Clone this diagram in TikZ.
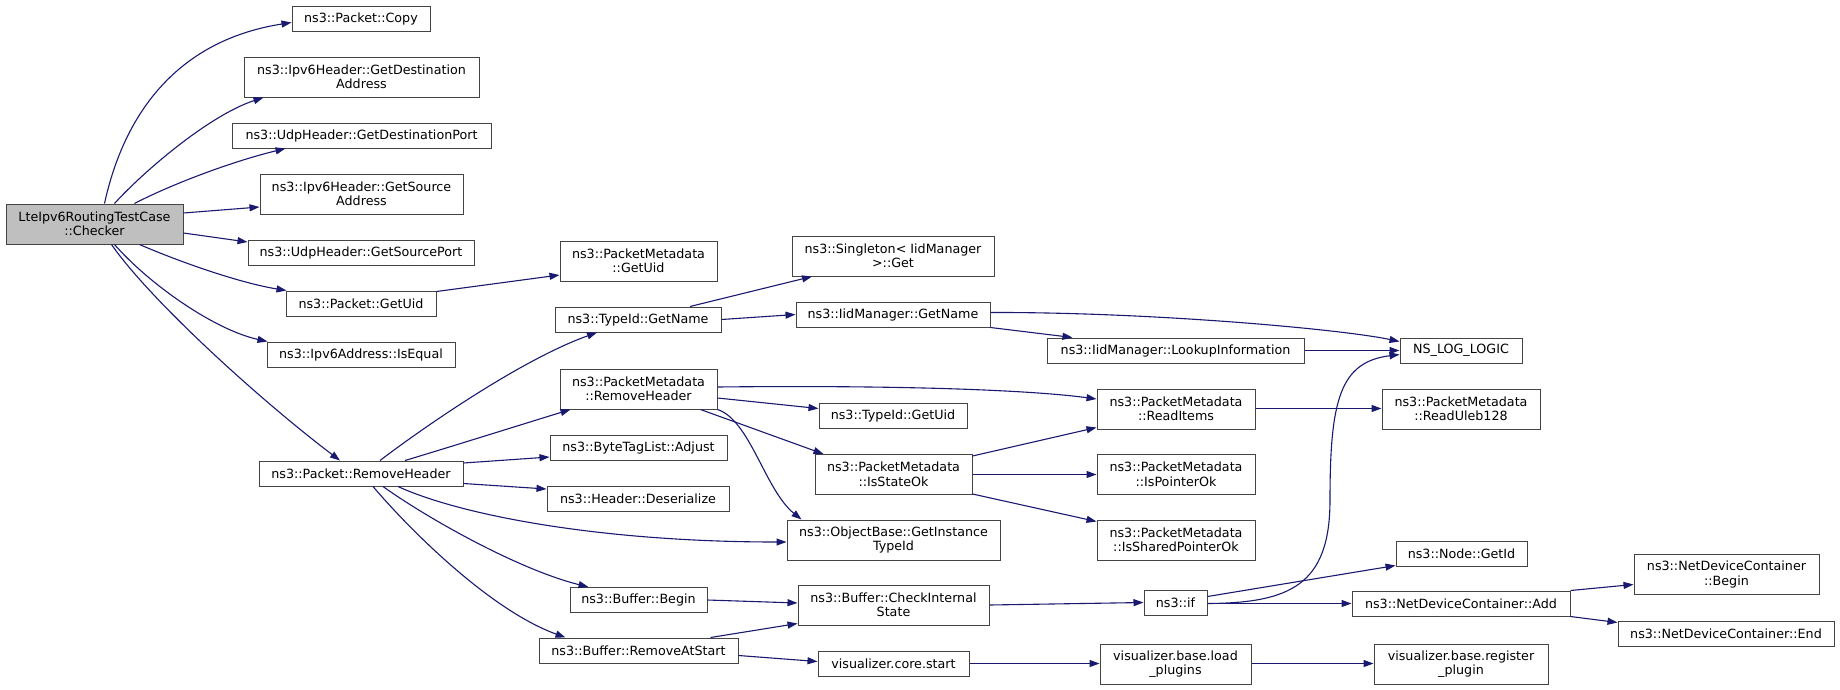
\documentclass[tikz,border=0pt]{standalone}
\usepackage{fontspec}
\setmainfont{DejaVu Sans}
\usetikzlibrary{arrows.meta}
\definecolor{edgeblue}{HTML}{191970}
\definecolor{boxline}{HTML}{444444}
\definecolor{rootfill}{HTML}{BFBFBF}
\begin{document}
\begin{tikzpicture}[x=1pt,y=-1pt,
  fn/.style={draw=boxline,line width=1pt,fill=white,inner sep=0pt,align=center,
    font=\fontsize{12.7}{14.5}\selectfont,minimum height=25pt},
  two/.style={minimum height=40pt},
  root/.style={fill=rootfill},
  call/.style={draw=edgeblue,line width=1.1pt,-{Triangle[length=10pt,width=7pt]}}
]
\useasboundingbox (0,0) rectangle (1840,689);
% nodes
\node[fn,two,root,minimum width=177pt] (chk) at (94.5,224) {LteIpv6RoutingTestCase\\::Checker};
\node[fn,minimum width=138pt] (copy) at (361,18.5) {ns3::Packet::Copy};
\node[fn,two,minimum width=235pt] (gda) at (361.5,77) {ns3::Ipv6Header::GetDestination\\Address};
\node[fn,minimum width=259pt] (gdp) at (361.5,135.5) {ns3::UdpHeader::GetDestinationPort};
\node[fn,two,minimum width=203pt] (gsa) at (361.5,194) {ns3::Ipv6Header::GetSource\\Address};
\node[fn,minimum width=226pt] (gsp) at (361,253) {ns3::UdpHeader::GetSourcePort};
\node[fn,minimum width=150pt] (puid) at (361,303.5) {ns3::Packet::GetUid};
\node[fn,minimum width=188pt] (iseq) at (361,354.5) {ns3::Ipv6Address::IsEqual};
\node[fn,minimum width=204pt] (prh) at (361,473.5) {ns3::Packet::RemoveHeader};
\node[fn,two,minimum width=157pt] (pmuid) at (638.5,261) {ns3::PacketMetadata\\::GetUid};
\node[fn,minimum width=166pt] (tgn) at (638,319.5) {ns3::TypeId::GetName};
\node[fn,two,minimum width=202pt] (sing) at (893,256) {ns3::Singleton< IidManager\\>::Get};
\node[fn,minimum width=194pt] (igm) at (893,314.5) {ns3::IidManager::GetName};
\node[fn,minimum width=257pt] (lookup) at (1175.5,350.5) {ns3::IidManager::LookupInformation};
\node[fn,minimum width=122pt] (nslog) at (1461,350.5) {NS\_LOG\_LOGIC};
\node[fn,two,minimum width=157pt] (pmrh) at (638.5,389) {ns3::PacketMetadata\\::RemoveHeader};
\node[fn,minimum width=177pt] (bta) at (638.5,447.5) {ns3::ByteTagList::Adjust};
\node[fn,minimum width=182pt] (hdes) at (638,498.5) {ns3::Header::Deserialize};
\node[fn,minimum width=137pt] (bbeg) at (638.5,600) {ns3::Buffer::Begin};
\node[fn,minimum width=199pt] (brem) at (638.5,650.5) {ns3::Buffer::RemoveAtStart};
\node[fn,minimum width=148pt] (tuid) at (893,415.5) {ns3::TypeId::GetUid};
\node[fn,two,minimum width=157pt] (iso) at (893.5,474.5) {ns3::PacketMetadata\\::IsStateOk};
\node[fn,two,minimum width=213pt] (git) at (893.5,540) {ns3::ObjectBase::GetInstance\\TypeId};
\node[fn,two,minimum width=191pt] (bcis) at (893.5,605) {ns3::Buffer::CheckInternal\\State};
\node[fn,minimum width=151pt] (vcs) at (893.5,663.5) {visualizer.core.start};
\node[fn,two,minimum width=158pt] (rit) at (1176,409) {ns3::PacketMetadata\\::ReadItems};
\node[fn,two,minimum width=158pt] (ipo) at (1176,474.5) {ns3::PacketMetadata\\::IsPointerOk};
\node[fn,two,minimum width=158pt] (ispo) at (1176,540) {ns3::PacketMetadata\\::IsSharedPointerOk};
\node[fn,minimum width=63pt] (nif) at (1175.5,602.5) {ns3::if};
\node[fn,two,minimum width=151pt] (vblp) at (1175.5,664) {visualizer.base.load\\\_plugins};
\node[fn,two,minimum width=158pt] (rul) at (1461,409) {ns3::PacketMetadata\\::ReadUleb128};
\node[fn,minimum width=131pt] (ngid) at (1461.5,553.5) {ns3::Node::GetId};
\node[fn,minimum width=218pt] (ndca) at (1461,603.5) {ns3::NetDeviceContainer::Add};
\node[fn,two,minimum width=185pt] (ndcb) at (1726.5,574.5) {ns3::NetDeviceContainer\\::Begin};
\node[fn,minimum width=216pt] (ndce) at (1726,633.5) {ns3::NetDeviceContainer::End};
\node[fn,two,minimum width=174pt] (vbrp) at (1461,664) {visualizer.base.register\\\_plugin};
% edges from Checker
\draw[call] ([shift={(10,0)}]chk.north) .. controls (125,110) and (180,40) .. ([shift={(0,4)}]copy.west);
\draw[call] ([shift={(20,0)}]chk.north) .. controls (145,170) and (210,115) .. ([shift={(-98,0)}]gda.south);
\draw[call] ([shift={(40,0)}]chk.north) .. controls (170,185) and (230,162) .. ([shift={(-76,0)}]gdp.south);
\draw[call] ([shift={(0,-11)}]chk.east) -- ([shift={(0,13)}]gsa.west);
\draw[call] ([shift={(0,9)}]chk.east) -- ([shift={(0,-11)}]gsp.west);
\draw[call] ([shift={(45,0)}]chk.south) .. controls (180,262) and (240,283) .. ([shift={(1,0)}]puid.north west);
\draw[call] ([shift={(20,0)}]chk.south) .. controls (150,285) and (215,330) .. ([shift={(1,0)}]iseq.north west);
\draw[call] ([shift={(17,0)}]chk.south) .. controls (150,300) and (260,400) .. ([shift={(-21,0)}]prh.north);
% second level
\draw[call] ([shift={(0,1)}]puid.north east) -- ([shift={(0,14)}]pmuid.west);
\draw[call] ([shift={(19,0)}]prh.north) .. controls (420,430) and (520,360) .. ([shift={(-41,0)}]tgn.south);
\draw[call] ([shift={(44,0)}]prh.north) .. controls (450,447) and (520,425) .. ([shift={(-68,0)}]pmrh.south);
\draw[call] ([shift={(0,-10.5)}]prh.east) -- ([shift={(0,9.5)}]bta.west);
\draw[call] ([shift={(0,10)}]prh.east) -- ([shift={(0,-9.5)}]hdes.west);
\draw[call] ([shift={(37,0)}]prh.south) .. controls (460,515) and (600,542) .. ([shift={(0,2)}]git.west);
\draw[call] ([shift={(22,0)}]prh.south) .. controls (430,520) and (520,570) .. ([shift={(-50,0)}]bbeg.north);
\draw[call] ([shift={(12,0)}]prh.south) .. controls (410,530) and (490,610) .. ([shift={(-73,0)}]brem.north);
% third level
\draw[call] ([shift={(52,0)}]tgn.north) -- ([shift={(-81,0)}]sing.south);
\draw[call] (tgn.east) -- (igm.west);
\draw[call] ([shift={(0,-2)}]igm.east) .. controls (1150,312) and (1340,329) .. ([shift={(0,-9)}]nslog.west);
\draw[call] (igm.south east) -- ([shift={(26,0)}]lookup.north west);
\draw[call] (lookup.east) -- (nslog.west);
\draw[call] ([shift={(0,-2)}]pmrh.east) .. controls (900,385) and (1030,390) .. ([shift={(0,-10)}]rit.west);
\draw[call] ([shift={(0,9)}]pmrh.east) -- ([shift={(0,-7)}]tuid.west);
\draw[call] ([shift={(62,0)}]pmrh.south) -- ([shift={(-70,0)}]iso.north);
\draw[call] (pmrh.south east) .. controls (750,420) and (765,490) .. ([shift={(-92,0)}]git.north);
\draw[call] ([shift={(0,2)}]iso.north east) -- ([shift={(0,-2)}]rit.south west);
\draw[call] (iso.east) -- (ipo.west);
\draw[call] ([shift={(0,-1)}]iso.south east) -- ([shift={(0,2)}]ispo.north west);
\draw[call] ([shift={(0,-0.5)}]rit.east) -- ([shift={(0,-0.5)}]rul.west);
\draw[call] (bbeg.east) -- ([shift={(0,-2)}]bcis.west);
\draw[call] ([shift={(-28,0)}]brem.north east) -- ([shift={(0,-2)}]bcis.south west);
\draw[call] ([shift={(0,5)}]brem.east) -- ([shift={(0,-2)}]vcs.west);
\draw[call] (bcis.east) -- (nif.west);
\draw[call] (vcs.east) -- ([shift={(0,-0.5)}]vblp.west);
\draw[call] ([shift={(0,-0.5)}]vblp.east) -- ([shift={(0,-0.5)}]vbrp.west);
\draw[call] ([shift={(0,1)}]nif.east) .. controls (1290,603) and (1330,585) .. (1330,500) .. controls (1330,400) and (1340,362) .. ([shift={(0,4)}]nslog.west);
\draw[call] ([shift={(0,-6)}]nif.east) -- ([shift={(0,-1)}]ngid.south west);
\draw[call] ([shift={(0,1)}]nif.east) -- (ndca.west);
\draw[call] (ndca.north east) -- ([shift={(0,10)}]ndcb.west);
\draw[call] (ndca.south east) -- ([shift={(0,-11)}]ndce.west);
\end{tikzpicture}
\end{document}
